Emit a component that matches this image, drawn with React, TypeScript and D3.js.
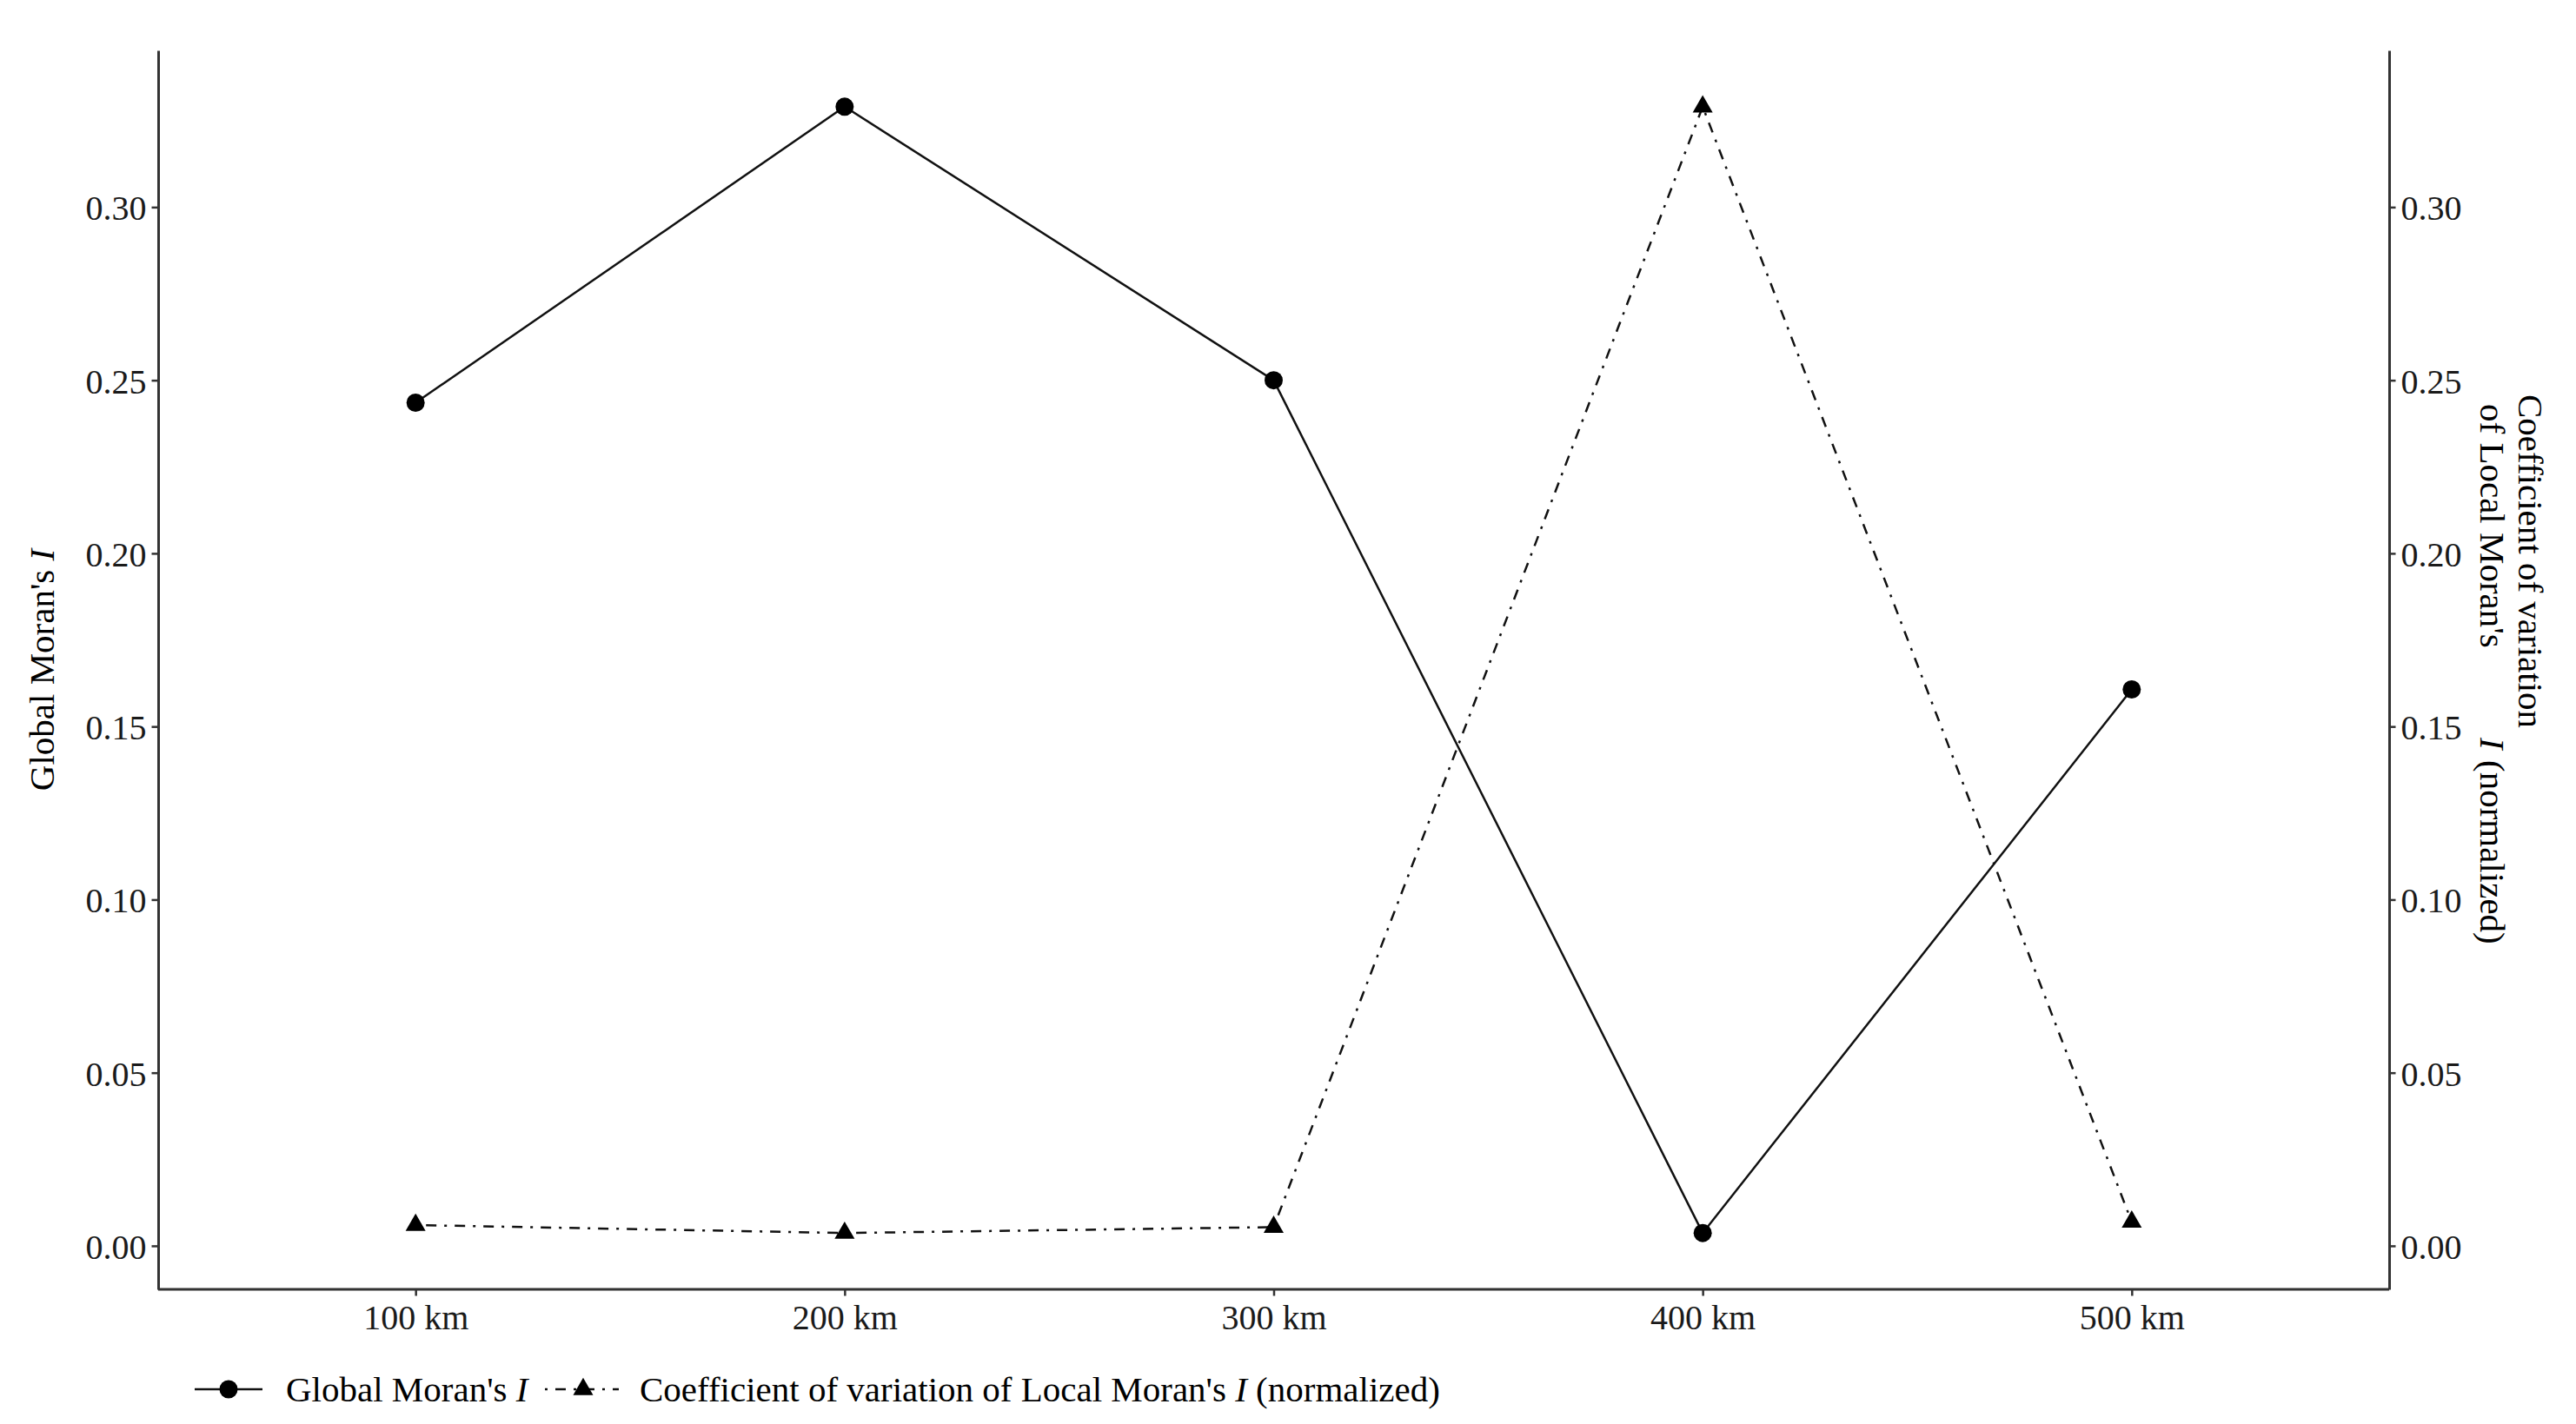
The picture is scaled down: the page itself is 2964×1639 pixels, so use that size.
import * as d3 from 'd3';
import React, { useRef, useEffect } from 'react';

const distances = ['100 km', '200 km', '300 km', '400 km', '500 km']
const globalMoran = [0.2435, 0.329, 0.250, 0.0037, 0.1607]
const cvLocalMoran = [0.0060, 0.0037, 0.0054, 0.329, 0.0069]
const yTicks = [0, 0.05, 0.10, 0.15, 0.20, 0.25, 0.30]

const W = 2964
const H = 1639
const margin = { top: 58, right: 215, bottom: 155, left: 182 }
const FONT = '"Liberation Serif", "Times New Roman", serif'
const DASHDOT = '3 9 12 9'

export default function App() {
    const ref = useRef(null)

    useEffect(() => {
        d3.select(ref.current).selectAll('svg').remove()

        const svg = d3.select(ref.current)
            .append('svg')
            .attr('width', W)
            .attr('height', H)
            .style('position', 'absolute')
            .style('left', 0)
            .style('top', 0)
            .style('font-family', FONT)

        svg.append('rect').attr('width', W).attr('height', H).attr('fill', '#fff')

        const x = d3.scalePoint()
            .domain(distances)
            .range([margin.left, W - margin.right])
            .padding(0.6)

        // ggplot style 5% expansion on the data range
        const all = globalMoran.concat(cvLocalMoran)
        const [lo, hi] = d3.extent(all)
        const pad = (hi - lo) * 0.05
        const y = d3.scaleLinear()
            .domain([lo - pad, hi + pad])
            .range([H - margin.bottom, margin.top])

        const styleAxis = (g, size) => {
            g.select('.domain').attr('stroke', '#333').attr('stroke-width', 3)
            g.selectAll('.tick line').attr('stroke', '#333').attr('stroke-width', 2.5)
            g.selectAll('.tick text')
                .attr('fill', '#1a1a1a')
                .style('font-size', size + 'px')
                .style('font-family', FONT)
        }

        // left axis
        const yl = svg.append('g')
            .attr('transform', `translate(${margin.left},0)`)
            .call(d3.axisLeft(y).tickValues(yTicks).tickFormat(d3.format('.2f'))
                .tickSize(7.5).tickSizeOuter(0).tickPadding(6))
        styleAxis(yl, 40)
        yl.selectAll('.tick text').attr('dy', '0.36em')

        // right axis (same scale)
        const yr = svg.append('g')
            .attr('transform', `translate(${W - margin.right},0)`)
            .call(d3.axisRight(y).tickValues(yTicks).tickFormat(d3.format('.2f'))
                .tickSize(7.5).tickSizeOuter(0).tickPadding(6))
        styleAxis(yr, 40)
        yr.selectAll('.tick text').attr('dy', '0.36em')

        // bottom axis
        const xb = svg.append('g')
            .attr('transform', `translate(0,${H - margin.bottom})`)
            .call(d3.axisBottom(x).tickSize(7.5).tickSizeOuter(0).tickPadding(10))
        styleAxis(xb, 40)
        xb.select('.domain').attr('d', `M${margin.left},0H${W - margin.right}`)

        const rows = distances.map((label, i) => ({ label, g: globalMoran[i], cv: cvLocalMoran[i] }))

        // lines
        svg.append('path')
            .datum(rows)
            .attr('fill', 'none')
            .attr('stroke', '#111')
            .attr('stroke-width', 2.5)
            .attr('d', d3.line().x(d => x(d.label)).y(d => y(d.g)))

        svg.append('path')
            .datum(rows)
            .attr('fill', 'none')
            .attr('stroke', '#111')
            .attr('stroke-width', 2.5)
            .attr('stroke-dasharray', DASHDOT)
            .attr('d', d3.line().x(d => x(d.label)).y(d => y(d.cv)))

        // points
        svg.append('g').selectAll('circle')
            .data(rows)
            .join('circle')
            .attr('cx', d => x(d.label))
            .attr('cy', d => y(d.g))
            .attr('r', 10.5)
            .attr('fill', '#000')

        const tri = d3.symbol(d3.symbolTriangle, 230)
        svg.append('g').selectAll('path')
            .data(rows)
            .join('path')
            .attr('transform', d => `translate(${x(d.label)},${y(d.cv)})`)
            .attr('d', tri)
            .attr('fill', '#000')

        // left axis title
        const lt = svg.append('text')
            .attr('transform', `translate(62,${(margin.top + H - margin.bottom) / 2}) rotate(-90)`)
            .attr('text-anchor', 'middle')
            .style('font-size', '41px')
            .attr('fill', '#000')
        lt.append('tspan').text("Global Moran's ")
        lt.append('tspan').attr('font-style', 'italic').text('I')

        // right axis title, two lines read top to bottom
        svg.append('text')
            .attr('transform', 'translate(2898,0) rotate(90)')
            .attr('x', 454)
            .style('font-size', '41px')
            .attr('fill', '#000')
            .text('Coefficient of variation')

        const rt = svg.append('text')
            .attr('transform', 'translate(2854,0) rotate(90)')
            .style('font-size', '41px')
            .attr('fill', '#000')
        rt.append('tspan').attr('x', 465).text("of Local Moran's")
        rt.append('tspan').attr('x', 849).attr('font-style', 'italic').text('I')
        rt.append('tspan').attr('x', 875).text('(normalized)')

        // legend
        const ly = 1599
        const leg = svg.append('g')
        leg.append('line').attr('x1', 224).attr('x2', 302).attr('y1', ly).attr('y2', ly)
            .attr('stroke', '#111').attr('stroke-width', 2.5)
        leg.append('circle').attr('cx', 263).attr('cy', ly).attr('r', 10.5).attr('fill', '#000')
        const t1 = leg.append('text').attr('x', 329).attr('y', 1613)
            .style('font-size', '41px').attr('fill', '#000')
        t1.append('tspan').text("Global Moran's ")
        t1.append('tspan').attr('font-style', 'italic').text('I')

        leg.append('line').attr('x1', 627).attr('x2', 712).attr('y1', ly).attr('y2', ly)
            .attr('stroke', '#111').attr('stroke-width', 2.5)
            .attr('stroke-dasharray', DASHDOT)
        leg.append('path').attr('transform', `translate(671,${ly})`).attr('d', tri).attr('fill', '#000')
        const t2 = leg.append('text').attr('x', 736).attr('y', 1613)
            .style('font-size', '41px').attr('fill', '#000')
        t2.append('tspan').text("Coefficient of variation of Local Moran's ")
        t2.append('tspan').attr('font-style', 'italic').text('I')
        t2.append('tspan').text(' (normalized)')
    }, [])

    return <div ref={ref} />
}
